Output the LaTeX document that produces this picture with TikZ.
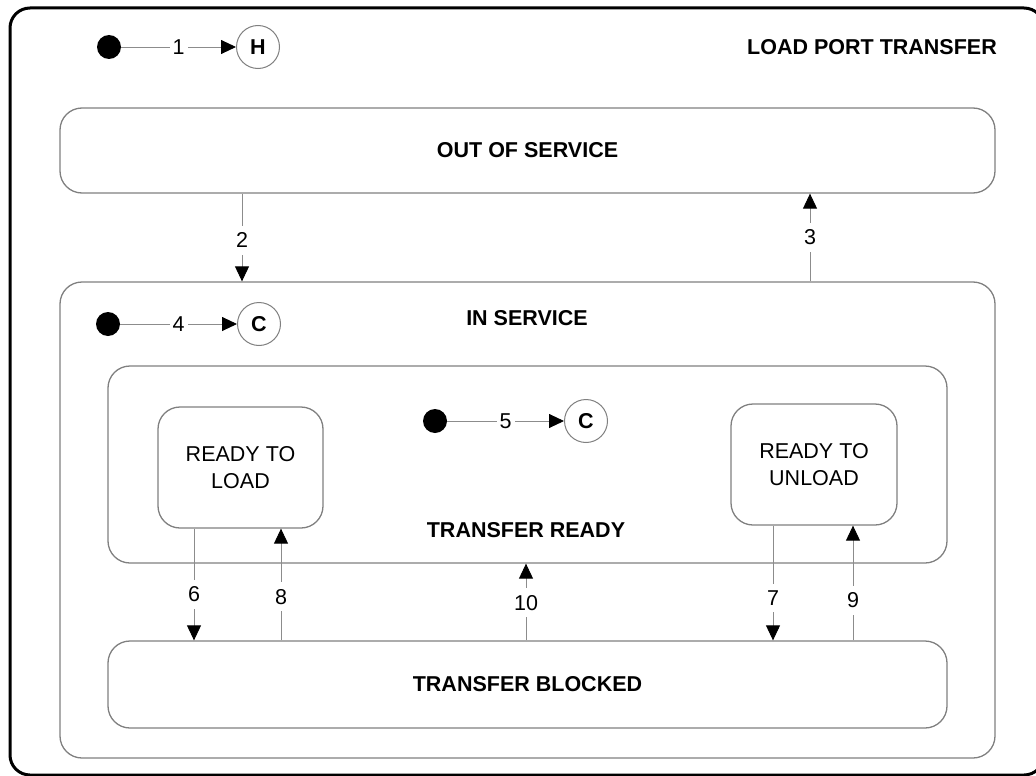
\documentclass[tikz,border=0pt]{standalone}
\usepackage{fontspec}
\setmainfont{Liberation Sans}
\usetikzlibrary{arrows.meta}
\definecolor{boxgray}{HTML}{808080}
\definecolor{linegray}{HTML}{8C8C8C}
\begin{document}
\begin{tikzpicture}[x=1pt,y=-1pt,
  font=\fontsize{21.5pt}{27pt}\selectfont,
  frame/.style={draw=black, line width=3pt, rounded corners=20pt},
  statebox/.style={draw=boxgray, line width=1.3pt, rounded corners=22pt, inner sep=0pt},
  title/.style={font=\fontsize{21.5pt}{27pt}\selectfont\bfseries},
  initdot/.style={circle, fill=black, minimum size=24pt, inner sep=0pt},
  histnode/.style={circle, draw=boxgray, line width=1pt, fill=white, minimum size=43pt, inner sep=0pt, font=\fontsize{21.5pt}{27pt}\selectfont\bfseries},
  trans/.style={draw=linegray, line width=0.9pt, -{Triangle[length=15pt,width=14pt,color=black,fill=black]}},
  lbl/.style={fill=white, inner xsep=3pt, inner ysep=7pt}]
\useasboundingbox (0,0) rectangle (1036,776);

% outer frame
\node[frame, minimum width=1034pt, minimum height=767pt] (lpt) at (527,391.5) {};
\node[title] (lpttitle) at (872,47) {LOAD PORT TRANSFER};

% top-level initial transition
\node[initdot] (d1) at (109,47) {};
\node[histnode] (h1) at (258,47) {H};
\draw[trans] (d1) -- node[lbl]{1} (h1);

% out of service
\node[statebox, minimum width=935pt, minimum height=85pt, title] (oos) at (527.5,150.5) {OUT OF SERVICE};

% in service
\node[statebox, minimum width=935pt, minimum height=476pt] (ins) at (527.5,520) {};
\node[title] (institle) at (527,318) {IN SERVICE};
\node[initdot] (d4) at (108,324) {};
\node[histnode] (c4) at (259,324) {C};
\draw[trans] (d4) -- node[lbl]{4} (c4);

% transfer ready
\node[statebox, minimum width=839pt, minimum height=197pt] (trr) at (527.5,464.5) {};
\node[title] (trrtitle) at (526,530) {TRANSFER READY};
\node[initdot] (d5) at (435,421) {};
\node[histnode] (c5) at (586,421) {C};
\draw[trans] (d5) -- node[lbl]{5} (c5);

\node[statebox, minimum width=165pt, minimum height=121pt, align=center] (rtl) at (240.5,467.5) {READY TO\\LOAD};
\node[statebox, minimum width=166pt, minimum height=121pt, align=center] (rtu) at (814,464.5) {READY TO\\UNLOAD};

% transfer blocked
\node[statebox, minimum width=839pt, minimum height=87pt, title] (tb) at (527.5,684.5) {TRANSFER BLOCKED};

% x positions of the vertical transitions
\coordinate (x2) at (242,0);
\coordinate (x3) at (810,0);
\coordinate (x6) at (194,0);
\coordinate (x8) at (281,0);
\coordinate (x10) at (526,0);
\coordinate (x7) at (773,0);
\coordinate (x9) at (853,0);

\draw[trans] (oos.south -| x2) -- node[lbl,pos=0.53]{2} (ins.north -| x2);
\draw[trans] (ins.north -| x3) -- node[lbl,pos=0.5]{3} (oos.south -| x3);
\draw[trans] (rtl.south -| x6) -- node[lbl,pos=0.59]{6} (tb.north -| x6);
\draw[trans] (tb.north -| x8) -- node[lbl,pos=0.39]{8} (rtl.south -| x8);
\draw[trans] (tb.north -| x10) -- node[lbl,pos=0.49]{10} (trr.south -| x10);
\draw[trans] (rtu.south -| x7) -- node[lbl,pos=0.63]{7} (tb.north -| x7);
\draw[trans] (tb.north -| x9) -- node[lbl,pos=0.35]{9} (rtu.south -| x9);
\end{tikzpicture}
\end{document}
